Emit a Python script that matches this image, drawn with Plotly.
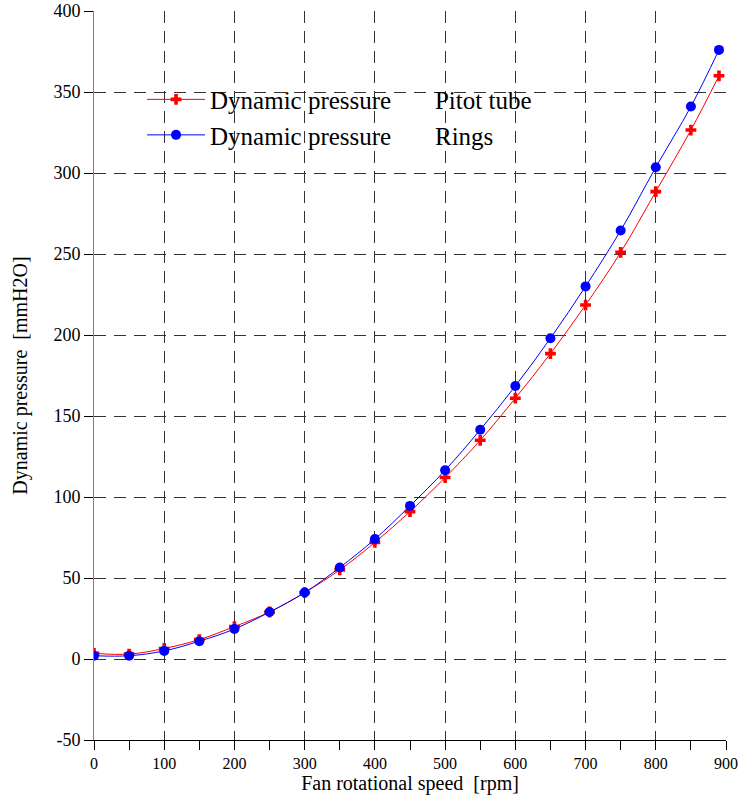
import plotly.graph_objects as go

speed_rpm = [0, 50, 100, 150, 200, 250, 300, 350, 400, 450, 500, 550, 600, 650, 700, 750, 800, 850, 890]
pitot_tube = [3.5, 3, 6.5, 12, 20, 29, 41, 55, 72, 91, 112, 135, 161, 188.5, 218.5, 251, 288.5, 326.5, 360]
rings = [2, 2, 5, 11, 18.5, 29, 41, 56.5, 74, 94.5, 116.5, 141.5, 168.5, 198, 230, 264.5, 303.5, 341, 376]

x_ticks = [0, 100, 200, 300, 400, 500, 600, 700, 800, 900]
y_ticks = [-50, 0, 50, 100, 150, 200, 250, 300, 350, 400]
y_tick_labels = ["-50", "0", "50", "100", "150", "200", "250", "300", "350", "400"]

NB = "\u00a0"
name_pitot = "Dynamic pressure" + NB * 7 + "Pitot tube"
name_rings = "Dynamic pressure" + NB * 7 + "Rings"

FONT = "Liberation Serif"

fig = go.Figure()
fig.add_trace(go.Scatter(
    x=speed_rpm, y=pitot_tube, name=name_pitot, mode="lines+markers",
    line=dict(color="#ff0000", width=1, shape="spline", smoothing=1),
    marker=dict(symbol="cross", size=9, color="#ff0000"),
))
fig.add_trace(go.Scatter(
    x=speed_rpm, y=rings, name=name_rings, mode="lines+markers",
    line=dict(color="#0000ff", width=1, shape="spline", smoothing=1),
    marker=dict(symbol="circle", size=10, color="#0000ff"),
))

grid_common = dict(gridcolor="#333333", gridwidth=1, griddash="12px,8px")

fig.update_layout(
    width=741, height=802,
    margin=dict(l=94, r=15, t=11, b=62),
    paper_bgcolor="white", plot_bgcolor="white",
    font=dict(family=FONT, size=17, color="black"),
    showlegend=True,
    legend=dict(
        x=0.076, y=0.91, xanchor="left", yanchor="top",
        bgcolor="rgba(0,0,0,0)", borderwidth=0,
        font=dict(family=FONT, size=25, color="black"),
        tracegroupgap=0, itemwidth=58,
    ),
    xaxis=dict(
        range=[0, 900], tickvals=x_ticks,
        showline=True, linecolor="black", linewidth=1,
        ticks="outside", ticklen=9, tickcolor="black",
        minor=dict(dtick=50, tick0=0, ticks="outside", ticklen=9, tickcolor="black", showgrid=False),
        showgrid=True, zeroline=False, automargin=False,
        title=dict(text="Fan rotational speed" + NB * 2 + "[rpm]",
                   font=dict(family=FONT, size=20, color="black"), standoff=4),
        tickfont=dict(family=FONT, size=16, color="black"),
        **grid_common,
    ),
    yaxis=dict(
        range=[-50, 400], tickvals=y_ticks, ticktext=y_tick_labels,
        showline=True, linecolor="#808080", linewidth=1,
        ticks="outside", ticklen=9, tickcolor="black",
        showgrid=True, zeroline=False, automargin=False,
        title=dict(text="Dynamic pressure" + NB * 2 + "[mmH2O]",
                   font=dict(family=FONT, size=20, color="black"), standoff=20),
        tickfont=dict(family=FONT, size=18, color="black"),
        **grid_common,
    ),
)

fig.write_html("out.html")
